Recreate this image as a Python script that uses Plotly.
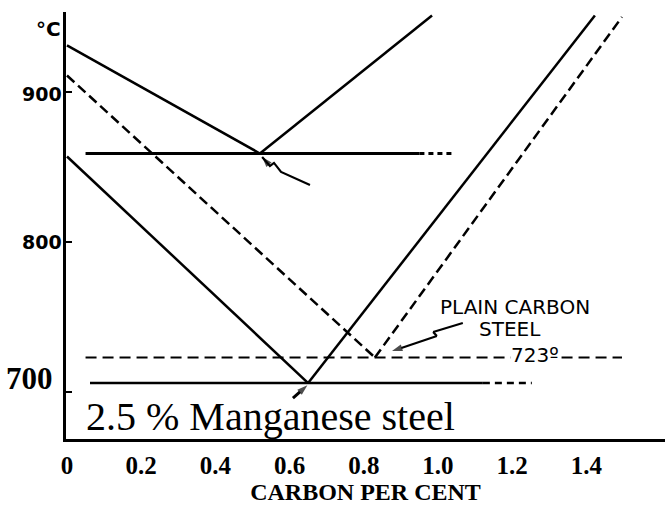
import plotly.graph_objects as go

# ---- 2.5 % Mn steel (solid lines) ----
mn_a3_x = [0.0, 0.65]
mn_a3_T = [857, 706]
mn_acm_x = [0.65, 1.423]
mn_acm_T = [706, 951]
mn_a1_solid_x = [0.062, 1.121]
mn_a1_dash_x = [1.121, 1.253]
mn_a1_T = 706

# upper V and its isotherm
up_left_x = [0.0, 0.52]
up_left_T = [931, 859]
up_right_x = [0.52, 0.984]
up_right_T = [859, 951]
up_iso_solid_x = [0.05, 0.95]
up_iso_dot_x = [0.95, 1.04]
up_iso_T = 859

# ---- plain carbon steel (dashed lines) ----
pc_a3_x = [0.0, 0.83]
pc_a3_T = [911, 723]
pc_acm_x = [0.83, 1.496]
pc_acm_T = [723, 950]
pc_a1_x = [0.05, 1.496]
pc_a1_T = 723

# pointer arrows
ptr_up_x = [0.655, 0.577, 0.558, 0.547, 0.526]
ptr_up_T = [838, 846.7, 852.7, 850.7, 856.7]
ptr_pc_x = [1.067, 0.987, 0.997, 0.876]
ptr_pc_T = [746, 740, 737.3, 727.3]
ptr_mn_x = [0.609, 0.648]
ptr_mn_T = [696, 704.5]

x_ticks = [0, 0.2, 0.4, 0.6, 0.8, 1.0, 1.2, 1.4]
x_tick_text = ["0", "0.2", "0.4", "0.6", "0.8", "1.0", "1.2", "1.4"]
y_ticks = [700, 800, 900]

BLACK = "#000000"
fig = go.Figure()


def seg(xs, ys, width=2.5, dash="solid"):
    fig.add_trace(go.Scatter(x=xs, y=ys, mode="lines",
                             line=dict(color=BLACK, width=width, dash=dash),
                             hoverinfo="skip", showlegend=False))


def pointer(xs, ys, width=2.2):
    sizes = [0] * (len(xs) - 1) + [11]
    fig.add_trace(go.Scatter(x=xs, y=ys, mode="lines+markers",
                             line=dict(color=BLACK, width=width),
                             marker=dict(symbol="arrow", size=sizes, angleref="previous",
                                         color=BLACK, line=dict(width=0)),
                             hoverinfo="skip", showlegend=False))


# Mn steel
seg(mn_a3_x, mn_a3_T)
seg(mn_acm_x, mn_acm_T)
seg(mn_a1_solid_x, [mn_a1_T] * 2, width=2.6)
seg(mn_a1_dash_x, [mn_a1_T] * 2, width=2.6, dash="7px,5px")

# upper V
seg(up_left_x, up_left_T)
seg(up_right_x, up_right_T)
seg(up_iso_solid_x, [up_iso_T] * 2, width=3)
seg(up_iso_dot_x, [up_iso_T] * 2, width=3, dash="5px,4px")

# plain carbon steel
seg(pc_a3_x, pc_a3_T, dash="10px,5px")
seg(pc_acm_x, pc_acm_T, dash="10px,5px")
seg(pc_a1_x, [pc_a1_T] * 2, width=2, dash="11px,6px")

pointer(ptr_up_x, ptr_up_T)
pointer(ptr_pc_x, ptr_pc_T)
pointer(ptr_mn_x, ptr_mn_T, width=3)

SANS = "DejaVu Sans"
SERIF = "Liberation Serif"


def label(text, family, size, weight="normal", **kw):
    base = dict(text=text, showarrow=False,
                font=dict(family=family, size=size, color=BLACK, weight=weight))
    base.update(kw)
    return base


ann = [
    label("°C", SANS, 20, "bold", xref="paper", yref="paper", x=0, y=1,
          xanchor="right", yanchor="middle", xshift=-3, yshift=-17),
    label("900", SANS, 19, "bold", xref="paper", yref="y", x=0, y=900,
          xanchor="right", yanchor="middle", xshift=-2, yshift=-2),
    label("800", SANS, 19, "bold", xref="paper", yref="y", x=0, y=800,
          xanchor="right", yanchor="middle", xshift=-2),
    label("700", SERIF, 31, "bold", xref="paper", yref="y", x=0, y=700,
          xanchor="right", yanchor="middle", xshift=-11, yshift=14),
    label("PLAIN CARBON", SANS, 20, xref="x", yref="y", x=1.207, y=757),
    label("STEEL", SANS, 20, xref="x", yref="y", x=1.194, y=742),
    label("723º", SANS, 20, xref="x", yref="y", x=1.261, y=pc_a1_T + 2,
          bgcolor="white", borderpad=0),
    label("2.5 % Manganese steel", SERIF, 40, xref="paper", yref="paper",
          x=0.03, y=0, xanchor="left", yanchor="bottom", yshift=-2),
]

fig.update_layout(
    template="none",
    width=665, height=509,
    margin=dict(l=66, r=0, t=12, b=70),
    paper_bgcolor="white", plot_bgcolor="white",
    annotations=ann,
    xaxis=dict(range=[-0.0027, 1.612], showgrid=False, zeroline=False,
               showline=True, linecolor=BLACK, linewidth=3,
               tickvals=x_ticks, ticktext=x_tick_text, ticks="",
               tickfont=dict(family=SERIF, size=25, color=BLACK, weight="bold"),
               ticklabelstandoff=2,
               title=dict(text="CARBON PER CENT",
                          font=dict(family=SERIF, size=24, color=BLACK, weight="bold"),
                          standoff=0)),
    yaxis=dict(range=[668.7, 953.3], showgrid=False, zeroline=False,
               showline=True, linecolor=BLACK, linewidth=3,
               tickvals=y_ticks, ticks="inside", ticklen=6, tickwidth=2,
               tickcolor=BLACK, showticklabels=False),
)

fig.write_html("out.html")
